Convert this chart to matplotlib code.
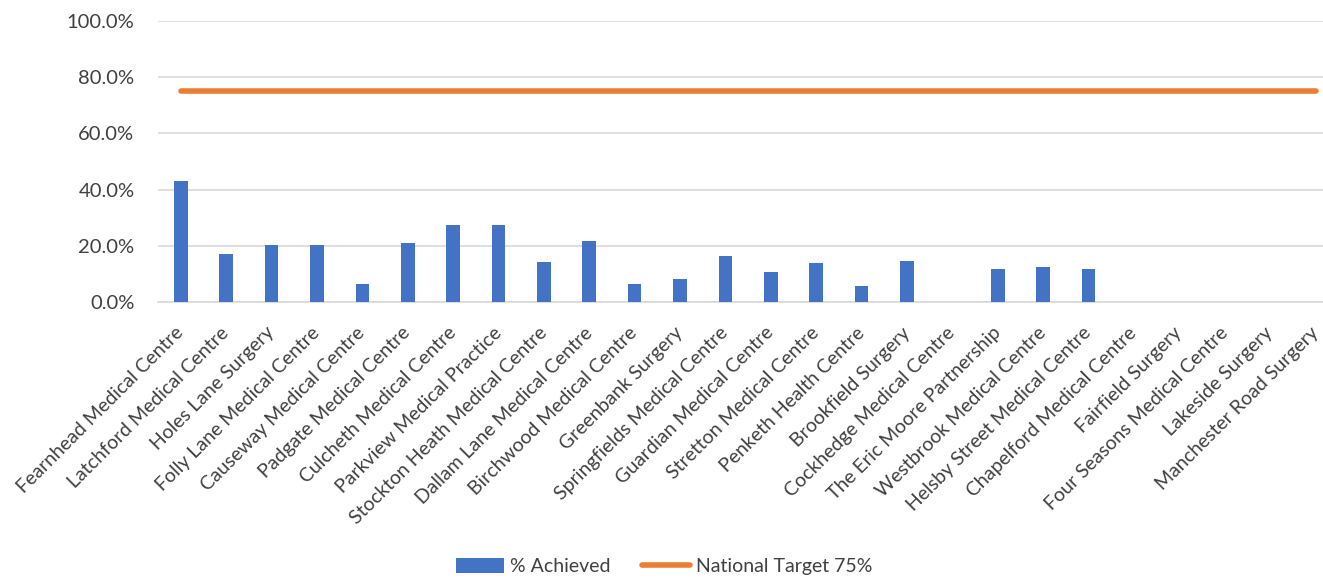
import matplotlib
matplotlib.use("Agg")
import matplotlib.pyplot as plt
import numpy as np

practices = [
    "Fearnhead Medical Centre", "Latchford Medical Centre", "Holes Lane Surgery",
    "Folly Lane Medical Centre", "Causeway Medical Centre", "Padgate Medical Centre",
    "Culcheth Medical Centre", "Parkview Medical Practice", "Stockton Heath Medical Centre",
    "Dallam Lane Medical Centre", "Birchwood Medical Centre", "Greenbank Surgery",
    "Springfields Medical Centre", "Guardian Medical Centre", "Stretton Medical Centre",
    "Penketh Health Centre", "Brookfield Surgery", "Cockhedge Medical Centre",
    "The Eric Moore Partnership", "Westbrook Medical Centre", "Helsby Street Medical Centre",
    "Chapelford Medical Centre", "Fairfield Surgery", "Four Seasons Medical Centre",
    "Lakeside Surgery", "Manchester Road Surgery",
]
achieved = [43.0, 17.2, 20.2, 20.2, 6.5, 20.9, 27.3, 27.3, 14.4, 21.6, 6.6, 8.1,
            16.6, 10.9, 13.8, 5.9, 14.5, 0.0, 11.7, 12.4, 11.7, 0.0, 0.0, 0.0, 0.0, 0.0]
target = [75.0] * len(practices)

plt.rcParams['font.family'] = ['Lato', 'DejaVu Sans']
txt = '#404040'

fig = plt.figure(figsize=(13.23, 5.79), dpi=100)
ax = fig.add_axes([0.1195, 0.478, 0.892, 0.486])

x = np.arange(len(practices))
bars = ax.bar(x, achieved, width=0.30, color='#4472C4', label='% Achieved', zorder=3)
line, = ax.plot(x, target, color='#ED7D31', linewidth=4, solid_capstyle='round',
                label='National Target 75%', zorder=4)

ax.set_ylim(0, 100)
ax.set_xlim(-0.5, len(practices) - 0.5)
ax.set_yticks(np.arange(0, 101, 20))
ax.set_yticklabels([f"{v:.1f}%" for v in np.arange(0, 101, 20)], fontsize=14.5, color=txt)
ax.grid(axis='y', color='#d9d9d9', linewidth=1.2, zorder=0)
for s in ['top', 'right', 'left']:
    ax.spines[s].set_visible(False)
ax.spines['bottom'].set_color('#d9d9d9')
ax.spines['bottom'].set_linewidth(1.2)
ax.tick_params(axis='y', length=0, pad=17)
ax.tick_params(axis='x', length=0, pad=20)

ax.set_xticks(x)
ax.set_xticklabels(practices, rotation=45, ha='right', va='center',
                   rotation_mode='anchor', fontsize=14, color=txt)

fig.legend([bars, line], ['% Achieved', 'National Target 75%'], loc='center',
           bbox_to_anchor=(0.502, 0.022), ncol=2, frameon=False,
           fontsize=14, labelcolor=txt, handlelength=2.5, handleheight=0.8,
           columnspacing=1.6, handletextpad=0.3)

fig.savefig('out.png', dpi=100)
